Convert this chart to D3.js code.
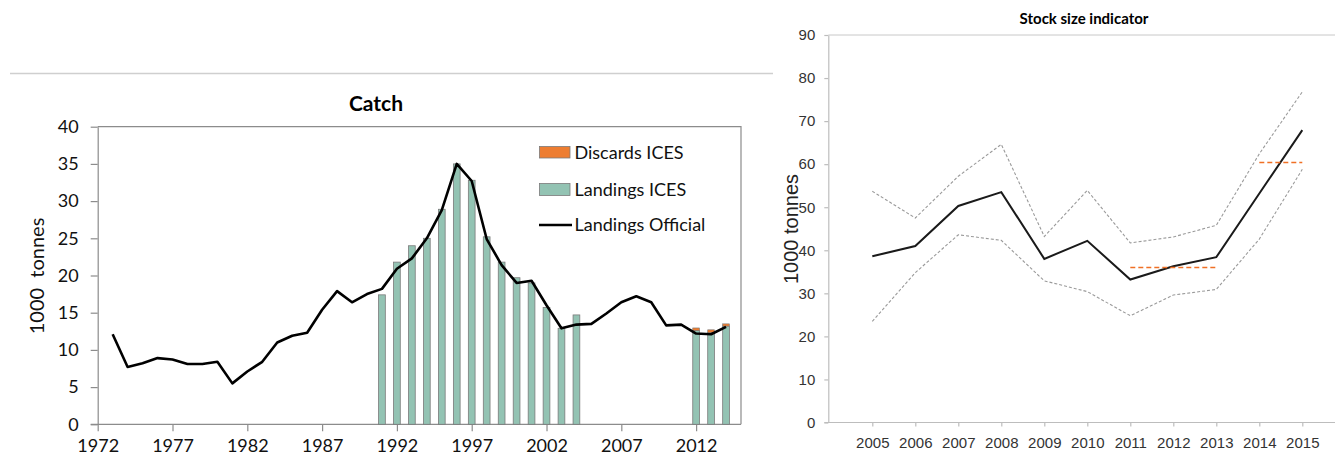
<!DOCTYPE html>
<html>
<head>
<meta charset="utf-8">
<script src="https://cdn.jsdelivr.net/npm/d3@7"></script>
<style>
  body { margin: 0; background: #fff; }
  svg { display: block; }
</style>
</head>
<body>
<svg id="chart" width="1335" height="462"></svg>
<script>
// catch panel data (1000 tonnes)
var officialYears = [1973, 1974, 1975, 1976, 1977, 1978, 1979, 1980, 1981, 1982, 1983, 1984, 1985, 1986, 1987, 1988, 1989, 1990, 1991, 1992, 1993, 1994, 1995, 1996, 1997, 1998, 1999, 2000, 2001, 2002, 2003, 2004, 2005, 2006, 2007, 2008, 2009, 2010, 2011, 2012, 2013, 2014];
var landingsOfficial = [12.1, 7.7, 8.2, 8.9, 8.7, 8.1, 8.1, 8.4, 5.5, 7.1, 8.4, 11.0, 11.9, 12.3, 15.4, 17.9, 16.4, 17.5, 18.2, 20.9, 22.3, 25.0, 28.8, 35.0, 32.7, 24.9, 21.4, 19.0, 19.3, 16.0, 12.9, 13.4, 13.5, 14.9, 16.4, 17.2, 16.4, 13.3, 13.4, 12.2, 12.1, 13.1];
var icesYears = [1991, 1992, 1993, 1994, 1995, 1996, 1997, 1998, 1999, 2000, 2001, 2002, 2003, 2004, 2012, 2013, 2014];
var landingsIces = [17.4, 21.8, 24.0, 25.0, 28.9, 35.0, 32.8, 25.2, 21.8, 19.7, 19.0, 15.7, 12.9, 14.7, 12.6, 12.3, 13.2];
var discardsIces = [0, 0, 0, 0, 0, 0, 0, 0, 0, 0, 0, 0, 0, 0, 0.35, 0.4, 0.3];
var catchYearTicks = [1972, 1977, 1982, 1987, 1992, 1997, 2002, 2007, 2012];
var catchValueTicks = [0, 5, 10, 15, 20, 25, 30, 35, 40];
var legendLabels = ["Discards ICES", "Landings ICES", "Landings Official"];

// stock size indicator data
var stockYears = [2005, 2006, 2007, 2008, 2009, 2010, 2011, 2012, 2013, 2014, 2015];
var stockIndex = [38.6, 41.0, 50.3, 53.5, 38.0, 42.2, 33.2, 36.3, 38.4, 53.2, 67.9];
var stockUpper = [53.7, 47.5, 57.2, 64.6, 43.2, 53.9, 41.7, 43.1, 45.8, 62.4, 76.8];
var stockLower = [23.5, 34.8, 43.6, 42.3, 32.9, 30.4, 24.8, 29.6, 30.9, 42.6, 58.8];
var meanYears1 = [2011, 2013];
var meanValue1 = 36.0;
var meanYears2 = [2014, 2015];
var meanValue2 = 60.4;
var stockValueTicks = [0, 10, 20, 30, 40, 50, 60, 70, 80, 90];

var svg = d3.select("#chart");

// thin separator line above the catch panel
svg.append("line")
    .attr("x1", 10).attr("x2", 773)
    .attr("y1", 73.5).attr("y2", 73.5)
    .attr("stroke", "#cfcfcf")
    .attr("stroke-width", 1.5);

function drawCatch() {
    var left = 97.7, right = 741, top = 126.7, bottom = 424.3;
    var x = d3.scaleLinear().domain([1972, 2015]).range([left, right]);
    var y = d3.scaleLinear().domain([0, 40]).range([bottom, top]);
    var g = svg.append("g");
    var font = "Lato, 'Open Sans', sans-serif";

    // frame: top and right borders
    g.append("path")
        .attr("d", "M" + left + "," + top + "H" + right + "V" + bottom)
        .attr("fill", "none")
        .attr("stroke", "#8c8c8c")
        .attr("stroke-width", 1.2);

    var yAxis = g.append("g")
        .attr("transform", "translate(" + left + ",0)")
        .call(d3.axisLeft(y).tickValues(catchValueTicks).tickSize(7).tickPadding(12).tickSizeOuter(0));
    var xAxis = g.append("g")
        .attr("transform", "translate(0," + bottom + ")")
        .call(d3.axisBottom(x).tickValues(catchYearTicks).tickFormat(d3.format("d")).tickSize(7).tickPadding(8).tickSizeOuter(0));
    [yAxis, xAxis].forEach(function (a) {
        a.selectAll("path, line").attr("stroke", "#8c8c8c").attr("stroke-width", 1.2);
        a.selectAll("text").attr("fill", "#111").style("font-family", font).style("font-size", "18px");
    });
    // extend x axis line left of the y axis slightly
    xAxis.select("path").attr("d", "M" + (left - 7) + ",0H" + right);

    var barW = x(1972.45) - x(1972);
    var bars = g.append("g");
    icesYears.forEach(function (yr, i) {
        bars.append("rect")
            .attr("x", x(yr) - barW / 2)
            .attr("y", y(landingsIces[i]))
            .attr("width", barW)
            .attr("height", y(0) - y(landingsIces[i]))
            .attr("fill", "#93c3b3")
            .attr("stroke", "#7a7a7a")
            .attr("stroke-width", 0.8);
        if (discardsIces[i] > 0) {
            bars.append("rect")
                .attr("x", x(yr) - barW / 2)
                .attr("y", y(landingsIces[i] + discardsIces[i]))
                .attr("width", barW)
                .attr("height", y(landingsIces[i]) - y(landingsIces[i] + discardsIces[i]))
                .attr("fill", "#ed7d31")
                .attr("stroke", "#7a7a7a")
                .attr("stroke-width", 0.6);
        }
    });

    var line = d3.line()
        .x(function (d, i) { return x(officialYears[i]); })
        .y(function (d) { return y(d); });
    g.append("path")
        .datum(landingsOfficial)
        .attr("d", line)
        .attr("fill", "none")
        .attr("stroke", "#000")
        .attr("stroke-width", 2.6)
        .attr("stroke-linejoin", "round");

    // legend
    var lg = g.append("g");
    var legendY = [152.5, 189.5, 225];
    lg.append("rect").attr("x", 539.5).attr("y", legendY[0] - 6).attr("width", 30.5).attr("height", 11.5)
        .attr("fill", "#ed7d31").attr("stroke", "#7a7a7a").attr("stroke-width", 0.8);
    lg.append("rect").attr("x", 539.5).attr("y", legendY[1] - 6).attr("width", 30.5).attr("height", 12)
        .attr("fill", "#93c3b3").attr("stroke", "#7a7a7a").attr("stroke-width", 0.8);
    lg.append("line").attr("x1", 539).attr("x2", 572).attr("y1", legendY[2]).attr("y2", legendY[2])
        .attr("stroke", "#000").attr("stroke-width", 2.6);
    legendLabels.forEach(function (t, i) {
        lg.append("text")
            .attr("x", 574.5)
            .attr("y", legendY[i])
            .attr("dy", "0.35em")
            .style("font-family", font)
            .style("font-size", "18px")
            .attr("fill", "#111")
            .text(t);
    });

    g.append("text")
        .attr("x", 376).attr("y", 104).attr("dy", "0.35em")
        .attr("text-anchor", "middle")
        .style("font-family", font).style("font-size", "21px").style("font-weight", "bold")
        .text("Catch");

    g.append("text")
        .attr("transform", "translate(37,276) rotate(-90)")
        .attr("text-anchor", "middle")
        .attr("dy", "0.35em")
        .style("font-family", font).style("font-size", "20px")
        .style("white-space", "pre")
        .attr("fill", "#111")
        .text("1000  tonnes");
}

function drawStock() {
    var left = 828.3, top = 35, bottom = 422.5;
    var step = 43.0;
    var x = d3.scaleLinear().domain([2005, 2015]).range([872.3, 872.3 + 10 * step]);
    var y = d3.scaleLinear().domain([0, 90]).range([bottom, top]);
    var g = svg.append("g");
    var font = "'Liberation Sans', Arial, sans-serif";
    var right = 1340;

    // top border at 90
    g.append("line")
        .attr("x1", left).attr("x2", right)
        .attr("y1", y(90)).attr("y2", y(90))
        .attr("stroke", "#c8c8c8").attr("stroke-width", 1);

    var yAxis = g.append("g")
        .attr("transform", "translate(" + left + ",0)")
        .call(d3.axisLeft(y).tickValues(stockValueTicks).tickSize(4).tickPadding(9).tickSizeOuter(0));
    var xAxis = g.append("g")
        .attr("transform", "translate(0," + bottom + ")")
        .call(d3.axisBottom(x).tickValues(stockYears).tickFormat(d3.format("d")).tickSize(4).tickPadding(11).tickSizeOuter(0));
    [yAxis, xAxis].forEach(function (a) {
        a.selectAll("path, line").attr("stroke", "#bdbdbd").attr("stroke-width", 1.2);
        a.selectAll("text").attr("fill", "#333").style("font-family", font).style("font-size", "15px");
    });
    xAxis.select("path").attr("d", "M" + (left - 4) + ",0H" + right);

    var line = d3.line()
        .x(function (d, i) { return x(stockYears[i]); })
        .y(function (d) { return y(d); });

    [stockUpper, stockLower].forEach(function (s) {
        g.append("path")
            .datum(s)
            .attr("d", line)
            .attr("fill", "none")
            .attr("stroke", "#9a9a9a")
            .attr("stroke-width", 1.1)
            .attr("stroke-dasharray", "3,2");
    });
    g.append("path")
        .datum(stockIndex)
        .attr("d", line)
        .attr("fill", "none")
        .attr("stroke", "#1a1a1a")
        .attr("stroke-width", 2);

    [[meanYears1, meanValue1], [meanYears2, meanValue2]].forEach(function (m) {
        g.append("line")
            .attr("x1", x(m[0][0])).attr("x2", x(m[0][1]))
            .attr("y1", y(m[1])).attr("y2", y(m[1]))
            .attr("stroke", "#f07025")
            .attr("stroke-width", 1.6)
            .attr("stroke-dasharray", "5,3");
    });

    g.append("text")
        .attr("x", 1084).attr("y", 19).attr("dy", "0.35em")
        .attr("text-anchor", "middle")
        .style("font-family", "Lato, 'Open Sans', sans-serif").style("font-size", "15px").style("font-weight", "bold")
        .text("Stock size indicator");

    g.append("text")
        .attr("transform", "translate(791,229) rotate(-90)")
        .attr("text-anchor", "middle")
        .attr("dy", "0.35em")
        .style("font-family", font).style("font-size", "20px")
        .attr("fill", "#222")
        .text("1000 tonnes");
}

drawCatch();
drawStock();
</script>
</body>
</html>
